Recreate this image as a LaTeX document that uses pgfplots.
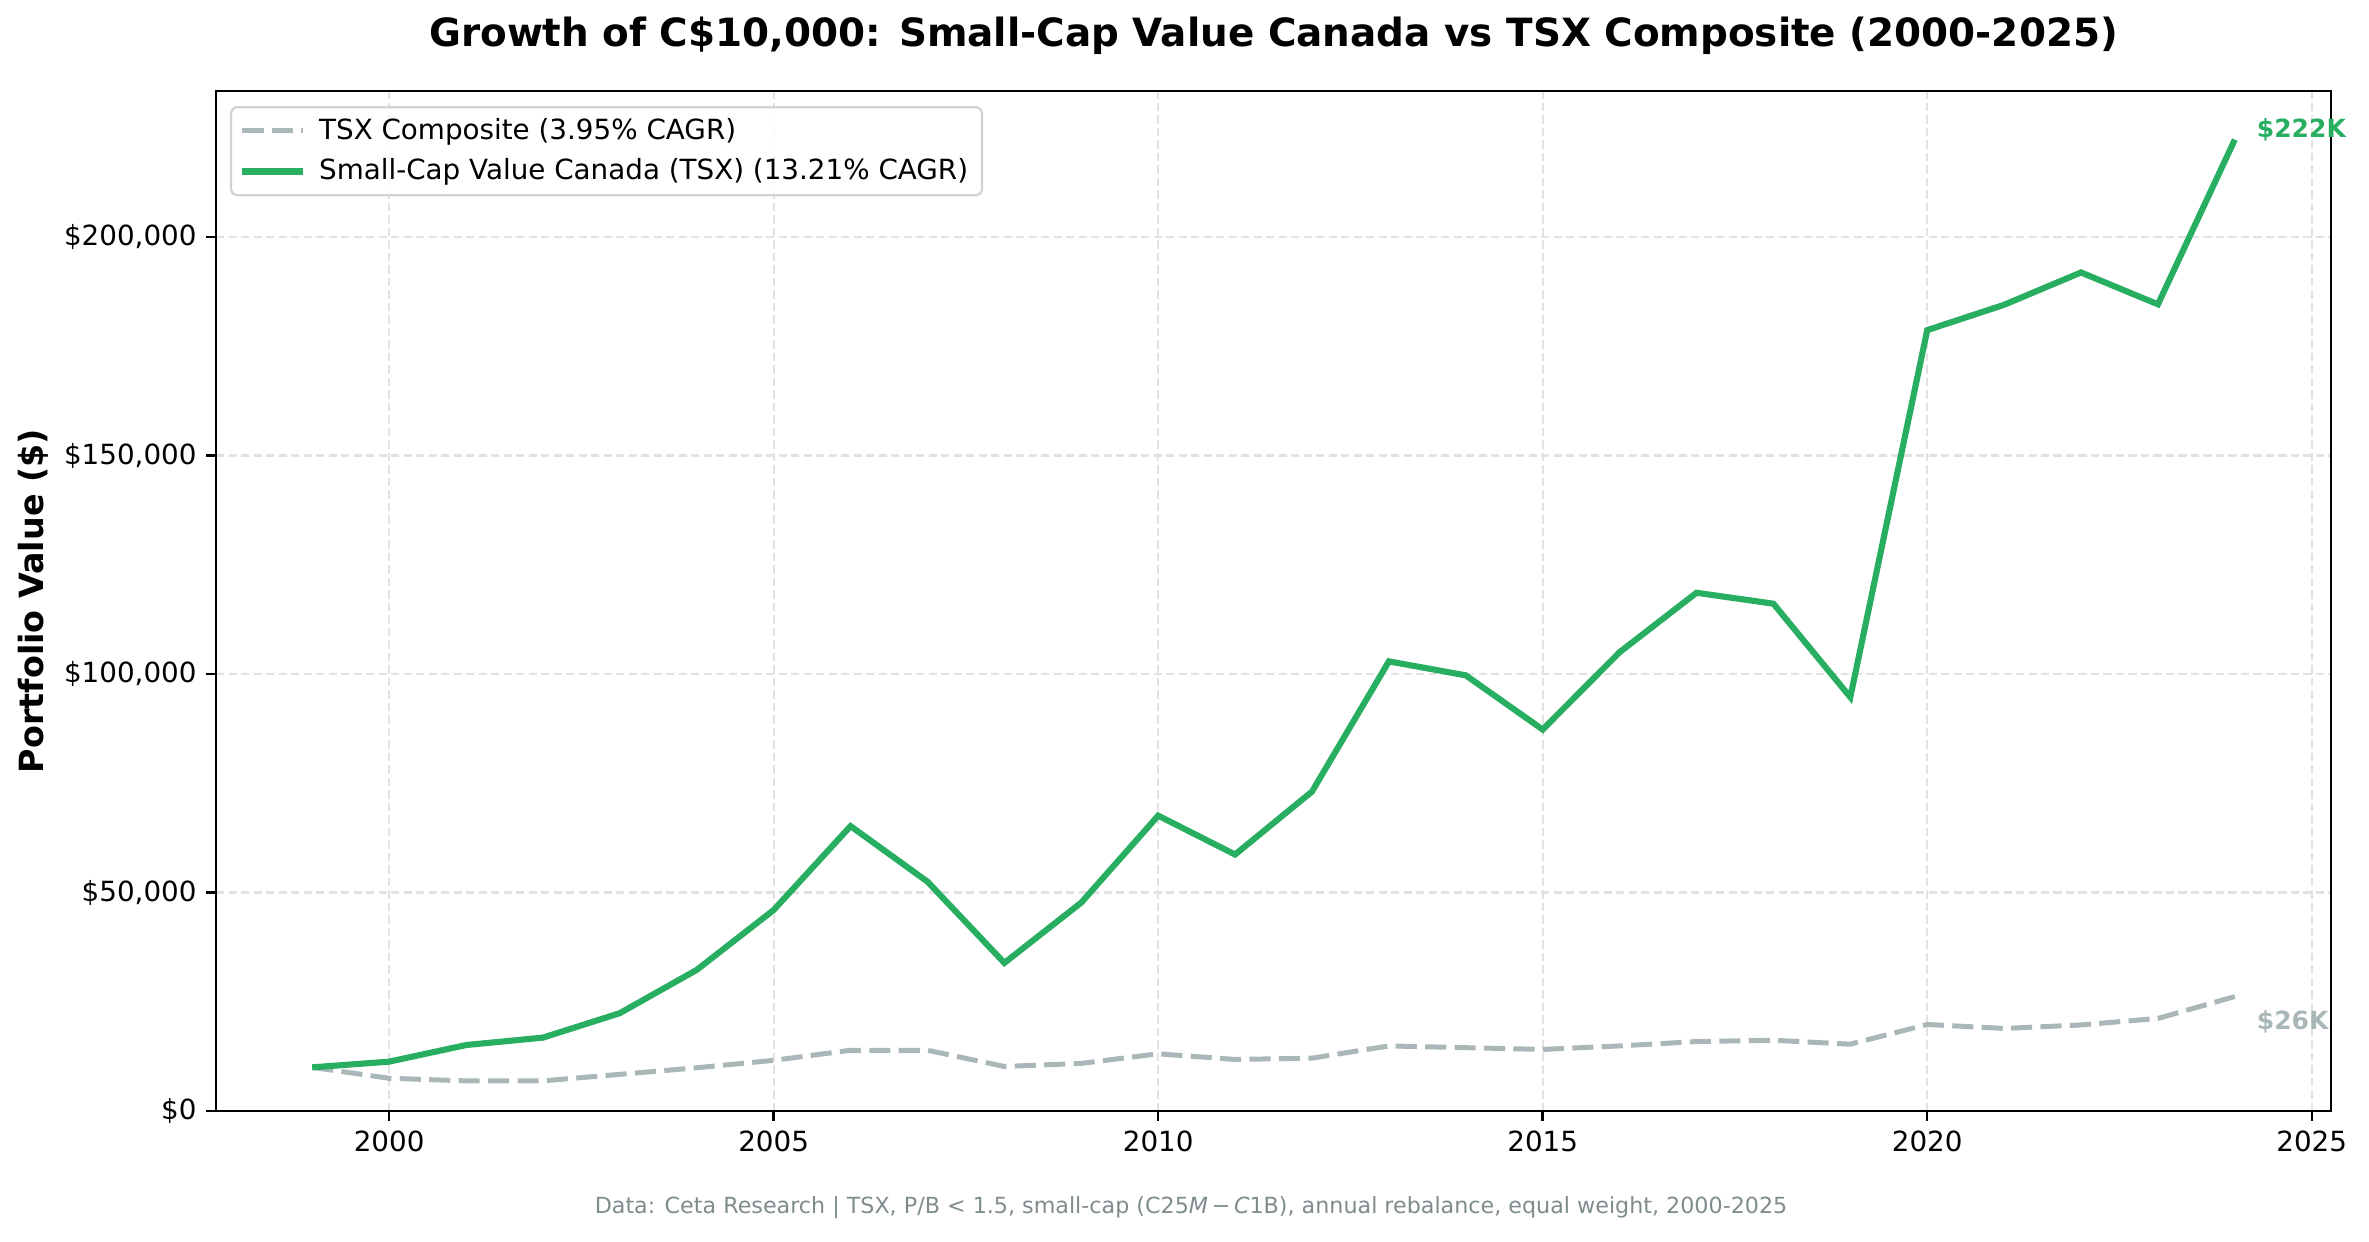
\documentclass[border=0pt]{standalone}
\usepackage{pgfplots}
\pgfplotsset{compat=1.18}
\usepackage{fontspec}
\setmainfont{DejaVu Sans}

\definecolor{scvgreen}{RGB}{39,174,96}
\definecolor{tsxgray}{RGB}{170,183,184}
\definecolor{footgray}{RGB}{127,140,141}
\definecolor{gridgray}{RGB}{226,226,226}

\begin{document}
\begin{tikzpicture}
\begin{axis}[
    name=ax,
    scale only axis,
    width=761.4pt,
    height=367.2pt,
    xmin=1997.75, xmax=2025.25,
    ymin=0, ymax=233400,
    scaled y ticks=false,
    clip=false,
    axis line style={black, line width=0.9pt},
    tick align=outside,
    tick pos=left,
    major tick length=3.5pt,
    tick style={black, line width=0.9pt},
    xtick={2000,2005,2010,2015,2020,2025},
    xticklabels={2000,2005,2010,2015,2020,2025},
    ytick={0,50000,100000,150000,200000},
    yticklabels={\$0,{\$50,000},{\$100,000},{\$150,000},{\$200,000}},
    ticklabel style={font=\fontsize{10}{12}\selectfont},
    grid=major,
    major grid style={gridgray, line width=0.8pt, dash pattern=on 3pt off 1.5pt},
    legend cell align=left,
    legend style={
        at={(rel axis cs:0,1)}, anchor=north west,
        xshift=5pt, yshift=-5.4pt,
        font=\fontsize{10}{12}\selectfont,
        draw={rgb,255:red,210;green,210;blue,210}, line width=0.8pt,
        rounded corners=2pt, fill=white, fill opacity=0.85, text opacity=1,
        inner xsep=3pt, inner ysep=2pt, row sep=1.5pt,
    },
    legend image code/.code={\draw[#1] (0pt,0pt) -- (21.8pt,0pt); \path (24.5pt,0pt);},
]

% TSX Composite
\addplot[tsxgray, line width=1.8pt, dash pattern=on 7.6pt off 3pt] coordinates {
    (1999,10000) (2000,7500) (2001,6900) (2002,6900) (2003,8400)
    (2004,9900) (2005,11600) (2006,13900) (2007,13900) (2008,10200)
    (2009,10900) (2010,13100) (2011,11800) (2012,12100) (2013,14900)
    (2014,14500) (2015,14100) (2016,14900) (2017,15900) (2018,16200)
    (2019,15300) (2020,19800) (2021,18900) (2022,19700) (2023,21200)
    (2024,26200)
};
\addlegendentry{TSX Composite (3.95\% CAGR)}

% Small-cap value
\addplot[scvgreen, line width=2.2pt] coordinates {
    (1999,10000) (2000,11300) (2001,15100) (2002,16800) (2003,22400)
    (2004,32300) (2005,46000) (2006,65200) (2007,52500) (2008,33900)
    (2009,47700) (2010,67600) (2011,58700) (2012,73100) (2013,102900)
    (2014,99700) (2015,87300) (2016,105000) (2017,118600) (2018,116100)
    (2019,94700) (2020,178700) (2021,184500) (2022,191900) (2023,184600)
    (2024,222300)
};
\addlegendentry{Small-Cap Value Canada (TSX) (13.21\% CAGR)}

\node[anchor=west, inner sep=0pt, text=scvgreen, font=\bfseries\fontsize{9}{11}\selectfont]
    at (axis cs:2024.28,224600) {\$222K};
\node[anchor=west, inner sep=0pt, text=tsxgray, font=\bfseries\fontsize{9}{11}\selectfont]
    at (axis cs:2024.28,20300) {\$26K};

\node[anchor=center, font=\bfseries\fontsize{14}{17}\selectfont]
    at ([yshift=19.8pt]rel axis cs:0.5,1)
    {Growth of C\$10,000: Small-Cap Value Canada vs TSX Composite (2000-2025)};
\node[anchor=center, rotate=90, font=\bfseries\fontsize{12}{14}\selectfont]
    at ([xshift=-65.9pt]rel axis cs:0,0.5) {Portfolio Value (\$)};
\node[anchor=center, text=footgray, font=\fontsize{8}{10}\selectfont]
    at ([xshift=-29.7pt,yshift=-34.6pt]rel axis cs:0.5,0)
    {Data: Ceta Research | TSX, P/B < 1.5, small-cap (C25\textit{M}\,−\,\textit{C}1B), annual rebalance, equal weight, 2000-2025};
\end{axis}
\pgfresetboundingbox
\path[use as bounding box] ([xshift=-77.8pt,yshift=-46.8pt]ax.south west)
    rectangle ([xshift=13.7pt,yshift=32.8pt]ax.north east);
\end{tikzpicture}
\end{document}
